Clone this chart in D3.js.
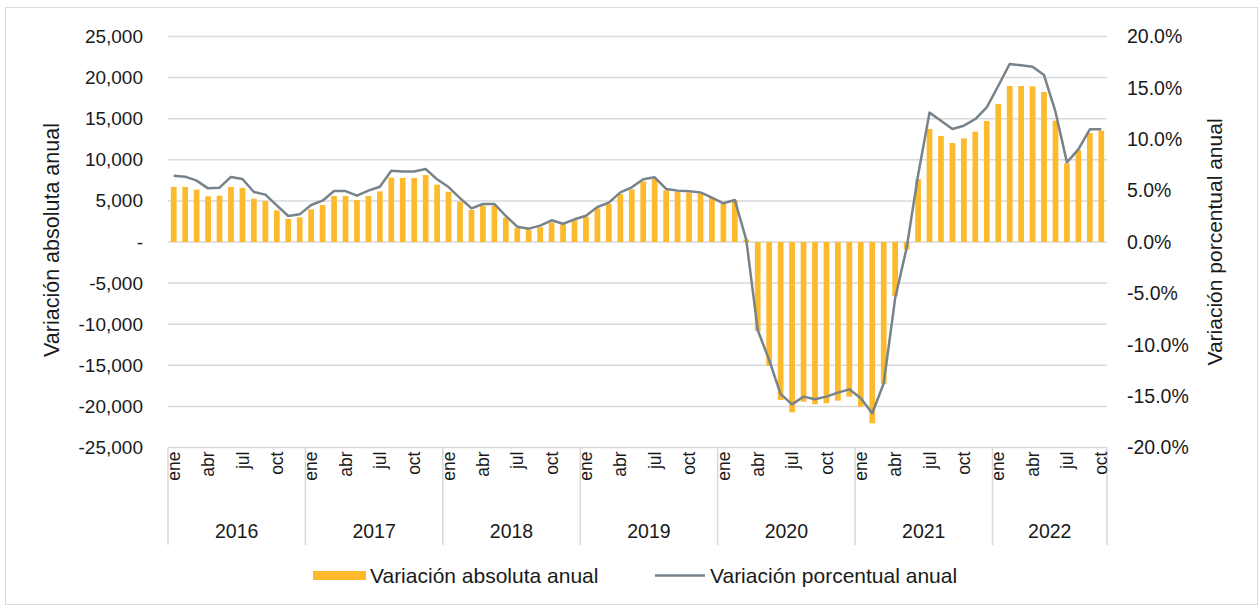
<!DOCTYPE html>
<html>
<head>
<meta charset="utf-8">
<script src="https://cdn.jsdelivr.net/npm/d3@7"></script>
<style>
  html, body { margin: 0; padding: 0; background: #fff; }
  svg { display: block; font-family: "Liberation Sans", Arial, sans-serif; }
</style>
</head>
<body>
<svg id="chart" width="1259" height="606"></svg>
<script>
const years = ["2016", "2017", "2018", "2019", "2020", "2021", "2022"];
const monthNames = ["ene", "feb", "mar", "abr", "may", "jun", "jul", "ago", "sep", "oct", "nov", "dic"];
const shownMonths = ["ene", "abr", "jul", "oct"];

const absVar = [
  6700, 6700, 6360, 5560, 5640, 6700, 6580, 5270, 4990, 3850, 2800, 3000,
  3970, 4500, 5600, 5600, 5110, 5600, 6160, 7830, 7800, 7800, 8150, 6980,
  6120, 4900, 3890, 4420, 4450, 2960, 1740, 1500, 1790, 2390, 2150, 2640,
  3080, 4090, 4620, 5840, 6400, 7380, 7700, 6290, 6120, 6000, 5920, 5400,
  4650, 5100, 300, -10830, -15050, -19220, -20720, -19430, -19740, -19620, -19300, -18820,
  -20040, -22060, -17270, -6570, -900, 7650, 13750, 12900, 12040, 12610, 13420, 14720,
  16790, 18980, 18980, 18940, 18250, 14760, 9570, 11190, 13260, 13540
];
const pctVar = [
  6.45, 6.36, 5.97, 5.22, 5.29, 6.33, 6.13, 4.87, 4.61, 3.57, 2.53, 2.69,
  3.60, 4.02, 4.96, 4.96, 4.51, 5.00, 5.38, 6.94, 6.87, 6.87, 7.10, 6.10,
  5.35, 4.27, 3.28, 3.70, 3.70, 2.53, 1.49, 1.30, 1.59, 2.11, 1.78, 2.21,
  2.56, 3.41, 3.83, 4.83, 5.32, 6.10, 6.30, 5.16, 5.00, 4.93, 4.83, 4.31,
  3.77, 4.09, 0.20, -8.56, -11.50, -14.80, -15.80, -15.05, -15.30, -15.05, -14.66, -14.34,
  -15.20, -16.67, -13.76, -5.48, -0.60, 6.50, 12.59, 11.80, 11.00, 11.32, 11.97, 13.10,
  15.18, 17.32, 17.20, 17.06, 16.25, 12.68, 7.75, 9.02, 10.97, 10.97
];
const leftTicks = [-25000, -20000, -15000, -10000, -5000, 0, 5000, 10000, 15000, 20000, 25000];
const rightTicks = [-0.20, -0.15, -0.10, -0.05, 0, 0.05, 0.10, 0.15, 0.20];

const data = absVar.map((v, i) => ({
  i,
  year: years[Math.floor(i / 12)],
  month: monthNames[i % 12],
  abs: v,
  pct: pctVar[i] / 100
}));

const locale = d3.formatLocale({ decimal: ".", thousands: ",", grouping: [3], currency: ["$", ""], minus: "-", percent: "%" });

const svg = d3.select("#chart");
const W = 1259, H = 606;
const plot = { left: 168, right: 1107, top: 36.5, bottom: 447.5 };

const barColor = "#FDBA2C";
const lineColor = "#77828A";
const gridColor = "#D9D9D9";
const textColor = "#1a1a1a";

svg.append("rect")
  .attr("x", 5.5).attr("y", 7.5).attr("width", W - 7).attr("height", H - 9)
  .attr("fill", "#fff").attr("stroke", "#D9D9D9").attr("stroke-width", 1);

const x = d3.scaleBand()
  .domain(data.map(d => d.i))
  .range([plot.left, plot.right])
  .paddingInner(0.5)
  .paddingOuter(0.25);
const step = x.step();
const center = i => x(i) + x.bandwidth() / 2;
const boundary = i => center(i) - step / 2;

const yL = d3.scaleLinear().domain([-25000, 25000]).range([plot.bottom, plot.top]);
const yR = d3.scaleLinear().domain([-0.20, 0.20]).range([plot.bottom, plot.top]);

svg.append("g").selectAll("line").data(leftTicks).join("line")
  .attr("x1", plot.left).attr("x2", plot.right)
  .attr("y1", d => yL(d)).attr("y2", d => yL(d))
  .attr("stroke", gridColor).attr("stroke-width", 1.5);

const fmtL = d => d === 0 ? "-" : locale.format(",")(d);
const leftAxis = d3.axisLeft(yL).tickValues(leftTicks).tickFormat(fmtL).tickSize(0).tickPadding(0);
const gL = svg.append("g").attr("transform", `translate(143,0)`).call(leftAxis);
gL.select(".domain").remove();
gL.selectAll("text").attr("font-size", 19).attr("fill", textColor)
  .attr("font-family", "'Liberation Sans', Arial, sans-serif");

const rightAxis = d3.axisRight(yR).tickValues(rightTicks).tickFormat(locale.format(".1%")).tickSize(0).tickPadding(0);
const gR = svg.append("g").attr("transform", `translate(1127,0)`).call(rightAxis);
gR.select(".domain").remove();
gR.selectAll("text").attr("font-size", 19.5).attr("fill", textColor)
  .attr("font-family", "'Liberation Sans', Arial, sans-serif");

svg.append("text")
  .attr("transform", `translate(51,240) rotate(-90)`)
  .attr("text-anchor", "middle").attr("dy", "0.35em")
  .attr("font-size", 21.5).attr("fill", textColor)
  .text("Variación absoluta anual");
svg.append("text")
  .attr("transform", `translate(1215,242) rotate(-90)`)
  .attr("text-anchor", "middle").attr("dy", "0.35em")
  .attr("font-size", 21).attr("fill", textColor)
  .text("Variación porcentual anual");

svg.append("g").selectAll("rect").data(data).join("rect")
  .attr("x", d => x(d.i))
  .attr("width", x.bandwidth())
  .attr("y", d => Math.min(yL(d.abs), yL(0)))
  .attr("height", d => Math.abs(yL(d.abs) - yL(0)))
  .attr("fill", barColor);

const line = d3.line().x(d => center(d.i)).y(d => yR(d.pct));
svg.append("path").datum(data)
  .attr("d", line)
  .attr("fill", "none")
  .attr("stroke", lineColor)
  .attr("stroke-width", 2.5)
  .attr("stroke-linejoin", "round");

const yearStarts = years.map((y, k) => k * 12);
const dividerXs = yearStarts.map(i => boundary(i)).concat([plot.right]);
svg.append("g").selectAll("line").data(dividerXs).join("line")
  .attr("x1", d => d).attr("x2", d => d)
  .attr("y1", plot.bottom).attr("y2", 545)
  .attr("stroke", gridColor).attr("stroke-width", 1.5);

svg.append("g").selectAll("text")
  .data(data.filter(d => shownMonths.includes(d.month)))
  .join("text")
  .attr("transform", d => `translate(${center(d.i)},${plot.bottom + 4}) rotate(-90)`)
  .attr("text-anchor", "end")
  .attr("dy", "0.35em")
  .attr("font-size", 17.5).attr("fill", textColor)
  .text(d => d.month);

svg.append("g").selectAll("text").data(years).join("text")
  .attr("x", (y, k) => {
    const s = boundary(k * 12);
    const e = k === years.length - 1 ? plot.right : boundary((k + 1) * 12);
    return (s + e) / 2;
  })
  .attr("y", 531)
  .attr("dy", "0.35em")
  .attr("text-anchor", "middle")
  .attr("font-size", 19.5).attr("fill", textColor)
  .text(d => d);

const lg = svg.append("g");
lg.append("rect").attr("x", 313).attr("y", 571).attr("width", 53).attr("height", 9).attr("fill", barColor);
lg.append("text").attr("x", 370).attr("y", 576).attr("dy", "0.35em")
  .attr("font-size", 21).attr("fill", textColor).text("Variación absoluta anual");
lg.append("line").attr("x1", 655).attr("x2", 705).attr("y1", 575.5).attr("y2", 575.5)
  .attr("stroke", lineColor).attr("stroke-width", 2.5);
lg.append("text").attr("x", 710).attr("y", 576).attr("dy", "0.35em")
  .attr("font-size", 21).attr("fill", textColor).text("Variación porcentual anual");
</script>
</body>
</html>
